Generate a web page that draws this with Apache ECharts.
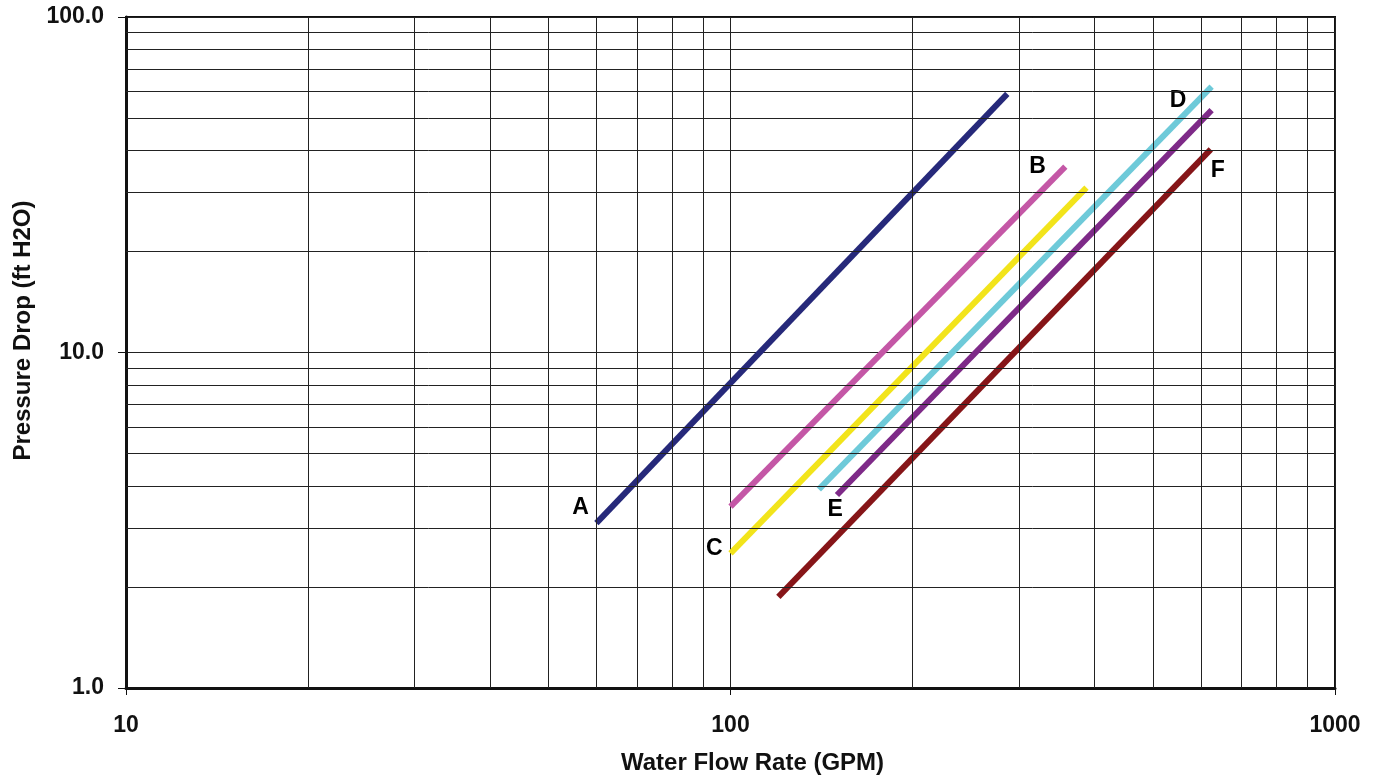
<!DOCTYPE html>
<html>
<head>
<meta charset="utf-8">
<script src="https://cdn.jsdelivr.net/npm/echarts@6/dist/echarts.min.js"></script>
<style>
    html, body { margin: 0; padding: 0; background: #fff; }
    #chart { width: 1379px; height: 781px; }
</style>
</head>
<body>
<div id="chart"></div>
<script>
// data (GPM, ft H2O)
var seriesNames = ['A', 'B', 'C', 'D', 'E', 'F'];
var lineA = [[60, 3.1], [287, 59]];
var lineB = [[100, 3.47], [358, 35.8]];
var lineC = [[100, 2.52], [388, 31.0]];
var lineD = [[140, 3.91], [625, 62.0]];
var lineE = [[150, 3.76], [625, 52.8]];
var lineF = [[120, 1.87], [623, 40.3]];
// where the letters sit
var labelPoints = [
    ['A', 56.5, 3.44],
    ['B', 322, 35.7],
    ['C', 94, 2.6],
    ['D', 550, 56.2],
    ['E', 149, 3.39],
    ['F', 640, 34.8]
];
// minor grid lines of the log-log paper
var xMinor = [20, 30, 40, 50, 60, 70, 80, 90, 200, 300, 400, 500, 600, 700, 800, 900];
var yMinor = [2, 3, 4, 5, 6, 7, 8, 9, 20, 30, 40, 50, 60, 70, 80, 90];

var colors = ['#26297A', '#C457A6', '#F2E41B', '#6ECAD9', '#7E2A88', '#861518'];
var lines = [lineA, lineB, lineC, lineD, lineE, lineF];
var font = 'Liberation Sans';

var chart = echarts.init(document.getElementById('chart'));

var series = [];
// grid paper lines
series.push({
    type: 'line',
    data: [],
    z: 1,
    silent: true,
    markLine: {
        silent: true,
        symbol: 'none',
        animation: false,
        label: { show: false },
        lineStyle: { color: '#222', width: 1, type: 'solid' },
        emphasis: { disabled: true },
        data: xMinor.map(function (v) { return { xAxis: v }; })
            .concat(yMinor.map(function (v) { return { yAxis: v }; }))
    }
});
lines.forEach(function (d, i) {
    series.push({
        name: seriesNames[i],
        type: 'line',
        data: d,
        z: 3,
        symbol: 'none',
        lineStyle: { color: colors[i], width: 6, cap: 'butt' }
    });
});
// letters next to the lines
series.push({
    type: 'scatter',
    z: 4,
    symbolSize: 0,
    silent: true,
    itemStyle: { opacity: 1 },
    data: labelPoints.map(function (p) { return { name: p[0], value: [p[1], p[2]] }; }),
    label: {
        show: true,
        position: [0, 0],
        align: 'center',
        verticalAlign: 'middle',
        formatter: '{b}',
        color: '#000',
        opacity: 1,
        textBorderWidth: 0,
        fontFamily: font,
        fontWeight: 'bold',
        fontSize: 23
    }
});

var option = {
    animation: false,
    backgroundColor: '#fff',
    grid: {
        left: 126, right: 44, top: 17, bottom: 93,
        show: true,
        borderColor: '#111',
        borderWidth: 2
    },
    xAxis: {
        type: 'log',
        logBase: 10,
        min: 10,
        max: 1000,
        name: 'Water Flow Rate (GPM)',
        nameLocation: 'middle',
        nameGap: 63,
        nameTextStyle: {
            fontFamily: font, fontWeight: 'bold', fontSize: 24, color: '#111',
            padding: [0, 0, 0, 44]
        },
        axisLine: { show: true, lineStyle: { color: '#111', width: 3 } },
        axisTick: { show: true, length: 7, lineStyle: { color: '#111', width: 1 } },
        axisLabel: {
            margin: 26,
            fontFamily: font, fontWeight: 'bold', fontSize: 23, color: '#111',
            formatter: function (v) { return String(Math.round(v)); }
        },
        splitLine: { show: true, lineStyle: { color: '#222', width: 1 } }
    },
    yAxis: {
        type: 'log',
        logBase: 10,
        min: 1,
        max: 100,
        name: 'Pressure Drop (ft H2O)',
        nameLocation: 'middle',
        nameGap: 90,
        nameTextStyle: {
            fontFamily: font, fontWeight: 'bold', fontSize: 24, color: '#111',
            padding: [0, 0, 0, 44]
        },
        axisLine: { show: true, lineStyle: { color: '#111', width: 3 } },
        axisTick: { show: true, length: 8, lineStyle: { color: '#111', width: 1 } },
        axisLabel: {
            margin: 22,
            fontFamily: font, fontWeight: 'bold', fontSize: 23, color: '#111',
            formatter: function (v) { return v.toFixed(1); }
        },
        splitLine: { show: true, lineStyle: { color: '#222', width: 1 } }
    },
    series: series
};
chart.setOption(option);
</script>
</body>
</html>
